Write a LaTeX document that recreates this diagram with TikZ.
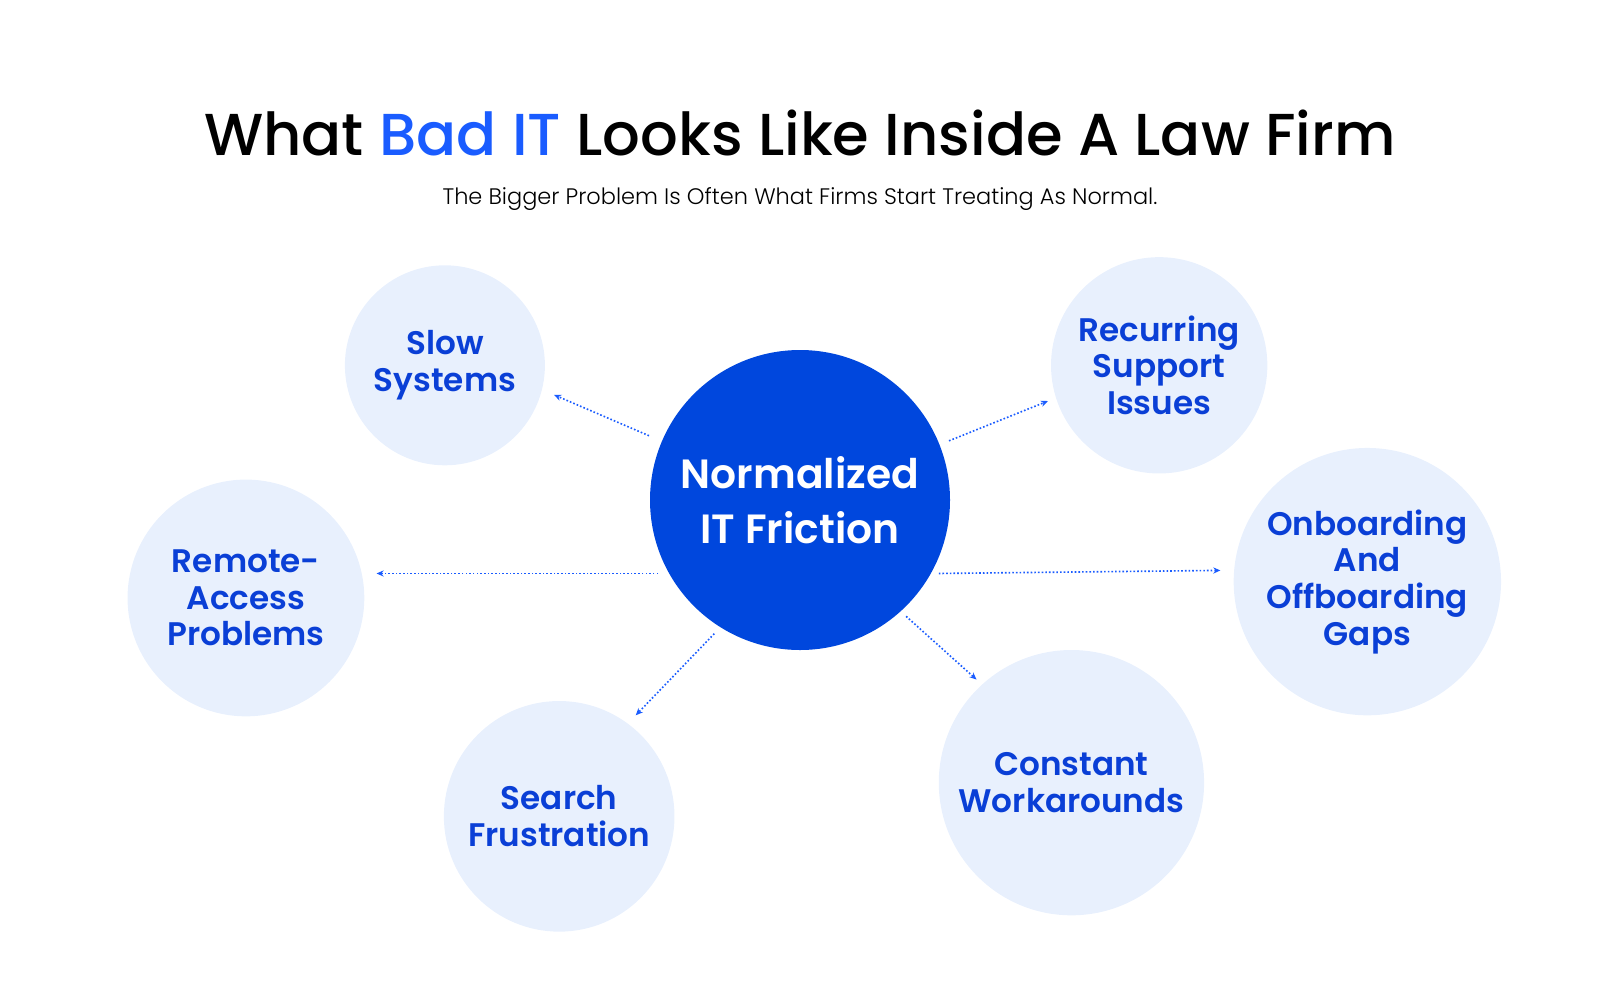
\documentclass[tikz,border=0pt]{standalone}
\usepackage{fontspec}
\setmainfont{Poppins}
\newfontfamily\pmed{Poppins Medium}
\newfontfamily\psemi{Poppins SemiBold}
\newfontfamily\plight{Poppins Light}
\usetikzlibrary{arrows.meta}
\definecolor{deep}{HTML}{0047DD}
\definecolor{pale}{HTML}{E8F0FD}
\definecolor{ink}{HTML}{0A3FD6}
\definecolor{bright}{HTML}{1A5CFF}
\begin{document}
\begin{tikzpicture}[x=1pt,y=-1pt,
 sat/.style={circle,fill=pale,inner sep=0pt,text=ink,align=center,font=\psemi\fontsize{32}{36}\selectfont},
 con/.style={bright,line width=1.6pt,dotted,-{Stealth[length=7pt,width=6pt]}}]
\useasboundingbox (0,0) rectangle (1568,980);
\node[font=\pmed\fontsize{58}{64}\selectfont] (title) at (784,130) {What \textcolor{bright}{Bad IT} Looks Like Inside A Law Firm};
\node[font=\plight\fontsize{22}{26}\selectfont] (sub) at (784,195) {The Bigger Problem Is Often What Firms Start Treating As Normal.};
\node[circle,fill=deep,minimum size=294pt,text=white,align=center,font=\psemi\fontsize{40}{54}\selectfont] (c) at (784,490) {Normalized\\IT Friction};
\node[sat,minimum size=196pt] (s1) at (436,358) {Slow\\Systems};
\node[sat,minimum size=212pt] (s2) at (1136,358) {Recurring\\Support\\Issues};
\node[sat,minimum size=232pt] (s3) at (241,586) {Remote-\\Access\\Problems};
\node[sat,minimum size=262pt] (s4) at (1340,570) {Onboarding\\And\\Offboarding\\Gaps};
\node[sat,minimum size=226pt] (s5) at (548,800) {Search\\Frustration};
\node[sat,minimum size=260pt] (s6) at (1050,767) {Constant\\Workarounds};
\coordinate (a1) at (636,427); \coordinate (b1) at (543,387);
\coordinate (a2) at (930,432); \coordinate (b2) at (1027,393);
\coordinate (a3) at (645,562); \coordinate (b3) at (369,562);
\coordinate (a4) at (920,562); \coordinate (b4) at (1196,559);
\coordinate (a5) at (700,621); \coordinate (b5) at (623,701);
\coordinate (a6) at (888,604); \coordinate (b6) at (957,666);
\foreach \i in {1,...,6} \draw[con] (a\i) -- (b\i);
\end{tikzpicture}
\end{document}
